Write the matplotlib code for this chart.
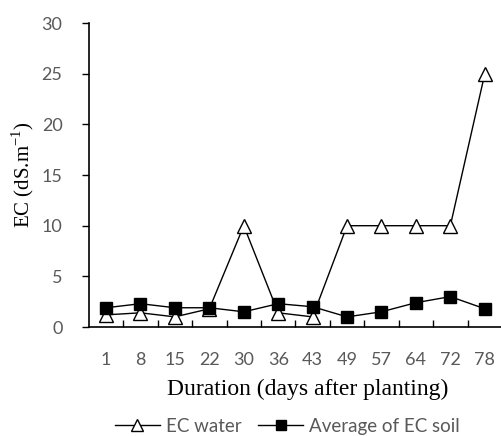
import matplotlib.pyplot as plt
import numpy as np

days = ["1", "8", "15", "22", "30", "36", "43", "49", "57", "64", "72", "78"]
ec_water = [1.2, 1.4, 1.0, 1.8, 10, 1.4, 1.0, 10, 10, 10, 10, 25]
ec_soil = [1.9, 2.3, 1.9, 1.9, 1.5, 2.3, 2.0, 1.0, 1.5, 2.4, 3.0, 1.8]

fig = plt.figure(figsize=(5.02, 4.36), dpi=100)
ax = fig.add_axes([0.177, 0.25, 0.823, 0.697])

x = np.arange(len(days))
ax.plot(x, ec_water, color="black", lw=1, marker="^", ms=10, mfc="white",
        mec="black", mew=1, label="EC water")
ax.plot(x, ec_soil, color="black", lw=1, marker="s", ms=9, mfc="black",
        mec="black", label="Average of EC soil")

ax.set_xlim(-0.5, len(days) - 0.5)
ax.set_ylim(0, 30)
ax.set_yticks([0, 5, 10, 15, 20, 25, 30])
ax.set_xticks(x)
ax.set_xticklabels(days)
ax.set_xticks(np.arange(0.5, len(days), 1), minor=True)
ax.tick_params(axis="x", which="major", length=0, pad=18, labelsize=13, labelcolor="#595959")
ax.tick_params(axis="x", which="minor", direction="in", length=5, width=1)
ax.tick_params(axis="y", direction="out", length=5, width=1, pad=14, labelsize=13, labelcolor="#595959")
for lab in ax.get_xticklabels() + ax.get_yticklabels():
    lab.set_family("Lato")

ax.spines["top"].set_visible(False)
ax.spines["right"].set_visible(False)
ax.spines["left"].set_linewidth(1.2)
ax.spines["bottom"].set_linewidth(1.2)

ax.set_xlabel("Duration (days after planting)", family="Liberation Serif", fontsize=17, labelpad=7)
ax.xaxis.set_label_coords(0.53, -0.17)
ax.set_ylabel("EC (dS.m$^{\\mathregular{-1}}$)", family="Liberation Serif", fontsize=15, labelpad=4)

leg = fig.legend(loc="center", bbox_to_anchor=(0.572, 0.022), ncol=2, frameon=False,
                 prop={"family": "Lato", "size": 13.5}, handlelength=2.4, columnspacing=0.9,
                 handletextpad=0.3, markerscale=0.8)
for t in leg.get_texts():
    t.set_color("#595959")

fig.savefig("out.png", dpi=100)
